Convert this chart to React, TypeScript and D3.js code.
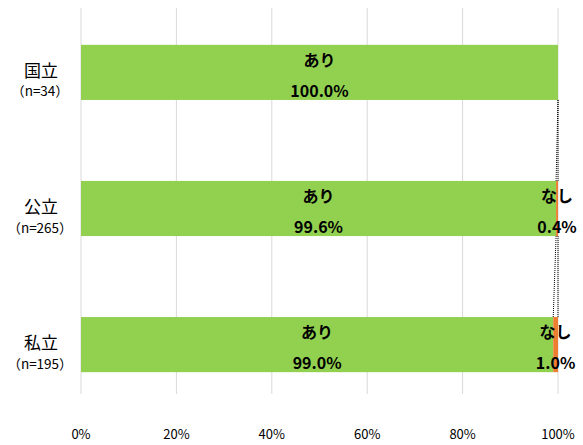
import React from 'react';
import * as d3 from 'd3';

const categories = ['国立', '公立', '私立'];
const sampleSizes = ['（n=34）', '（n=265）', '（n=195）'];
const yesValues = [100.0, 99.6, 99.0];
const noValues = [0, 0.4, 1.0];
const seriesNames = ['あり', 'なし'];
const seriesColors = ['#92d050', '#ed7d31'];
const xTicks = [0, 20, 40, 60, 80, 100];

const W = 583;
const H = 445;
const margin = { top: 4, right: 25, bottom: 32, left: 81 };
const font = '"Noto Sans CJK JP", "Noto Sans", sans-serif';

export default function App() {
  const x = d3.scaleLinear().domain([0, 100]).range([margin.left, W - margin.right]);
  const y = d3.scaleBand<string>().domain(categories).range([margin.top, H - margin.bottom]).paddingInner(0.595).paddingOuter(0.3);

  const rows = categories.map((c, i) => {
    const segs = [yesValues[i], noValues[i]];
    let acc = 0;
    return segs.map((v, k) => {
      const s = { cat: c, k, v, x0: acc, x1: acc + v };
      acc += v;
      return s;
    });
  });

  const bw = y.bandwidth();
  const fmt = (v: number) => v.toFixed(1) + '%';

  return (
    <svg width={W} height={H} style={{ position: 'absolute', left: 0, top: 0, fontFamily: font }}>
      {xTicks.map(t => (
        <line key={t} x1={x(t)} x2={x(t)} y1={margin.top + 4} y2={H - margin.bottom - 19} stroke="#d9d9d9" strokeWidth={1} />
      ))}
      {xTicks.map(t => (
        <text key={'t' + t} x={x(t)} y={H - 6} textAnchor="middle" fontSize={13} fill="#000">{t}%</text>
      ))}
      {/* series lines */}
      {rows.slice(0, -1).map((r, i) =>
        [0, 1].map(k => (
          <line key={`sl${i}${k}`}
            x1={x(r[k].x1)} y1={(y(categories[i]) as number) + bw}
            x2={x(rows[i + 1][k].x1)} y2={y(categories[i + 1]) as number}
            stroke="#000" strokeWidth={1} strokeDasharray="1,1" />
        ))
      )}
      {rows.map(r =>
        r.map(s => s.v > 0 && (
          <rect key={s.cat + s.k} x={x(s.x0)} y={y(s.cat)} width={x(s.x1) - x(s.x0)} height={bw} fill={seriesColors[s.k]} />
        ))
      )}
      {rows.map(r =>
        r.map(s => s.v > 0 && (
          <g key={'l' + s.cat + s.k} fontWeight="bold" fontSize={16} textAnchor="middle" fill="#000">
            <text x={(x(s.x0) + x(s.x1)) / 2} y={(y(s.cat) as number) + 21}>{seriesNames[s.k]}</text>
            <text x={(x(s.x0) + x(s.x1)) / 2} y={(y(s.cat) as number) + 52}>{fmt(s.v)}</text>
          </g>
        ))
      )}
      {categories.map((c, i) => (
        <g key={'c' + c} textAnchor="middle" fill="#000">
          <text x={41} y={(y(c) as number) + bw / 2 + 4.5} fontSize={17}>{c}</text>
          <text x={40} y={(y(c) as number) + bw / 2 + 24} fontSize={13.5}>{sampleSizes[i]}</text>
        </g>
      ))}
    </svg>
  );
}
